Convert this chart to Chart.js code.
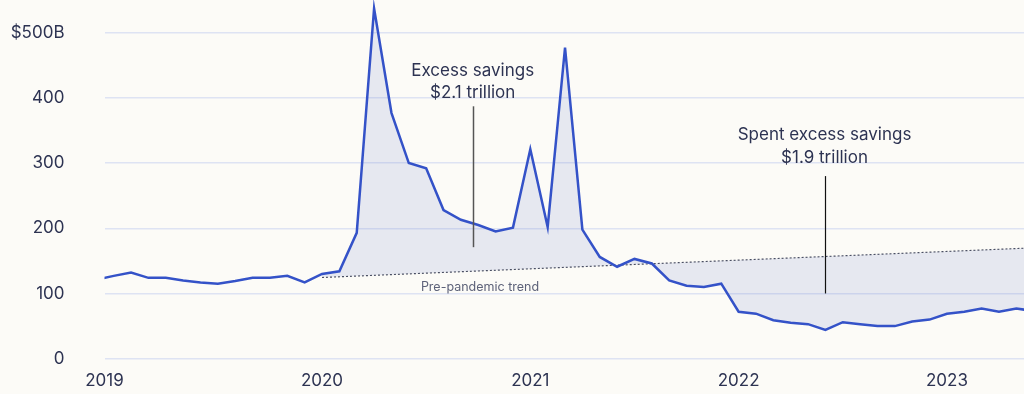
<!DOCTYPE html>
<html>
<head>
<meta charset="utf-8">
<script src="https://cdn.jsdelivr.net/npm/chart.js@4.4.0/dist/chart.umd.min.js"></script>
<style>
  html, body { margin: 0; padding: 0; background: #fcfbf7; }
  #wrap { width: 1024px; height: 394px; position: relative; }
</style>
</head>
<body>
<div id="wrap"><canvas id="savingsChart"></canvas></div>
<script>
// Monthly personal saving, $ billions (Dec 2018 .. Jun 2023)
const firstMonth = "2018-12";
const savings = [
  121,
  127, 132, 124, 124, 120, 117, 115, 119, 124, 124, 127, 117,   // 2019
  130, 134, 193, 537, 377, 300, 292, 228, 213, 205, 195, 201,   // 2020
  321, 202, 477, 198, 156, 141, 153, 146, 120, 112, 110, 115,   // 2021
  72, 69, 59, 55, 53, 44, 56, 53, 50, 50, 57, 60,               // 2022
  69, 72, 77, 72, 77, 73                                        // 2023
];

// Pre-pandemic trend (straight line)
const trendMonths = ["2020-01", "2023-06"];
const trendValues = [124.5, 170];

const yearLabels = ["2019", "2020", "2021", "2022", "2023"];
const yTicks = [0, 100, 200, 300, 400, 500];

const FONT = 'Inter, "Noto Sans", sans-serif';
const TEXT = "#2d3352";

// months since Jan 2019
function monthIndex(s) {
  const [y, m] = s.split("-").map(Number);
  return (y - 2019) * 12 + (m - 1);
}

const start = monthIndex(firstMonth);
const savingsPoints = savings.map((v, i) => ({ x: start + i, y: v }));
const trendPoints = trendMonths.map((m, i) => ({ x: monthIndex(m), y: trendValues[i] }));

// text + rule annotations, in data units
const notes = [
  { lines: ["Excess savings", "$2.1 trillion"], x: 20.68, textY: [442, 407], rule: [387, 171], ruleColor: "#555", ruleWidth: 1.5 },
  { lines: ["Spent excess savings", "$1.9 trillion"], x: 40.95, textY: [343, 308], rule: [280, 100], ruleColor: "#111", ruleWidth: 1.2 }
];
const trendNote = { text: "Pre-pandemic trend", x: 21.1, y: 109.5 };

const notesPlugin = {
  id: "notes",
  afterDatasetsDraw(chart) {
    const ctx = chart.ctx;
    const xs = chart.scales.x;
    const ys = chart.scales.y;
    ctx.save();
    notes.forEach(n => {
      const px = Math.round(xs.getPixelForValue(n.x)) + 0.5;
      ctx.strokeStyle = n.ruleColor;
      ctx.lineWidth = n.ruleWidth;
      ctx.beginPath();
      ctx.moveTo(px, ys.getPixelForValue(n.rule[0]));
      ctx.lineTo(px, ys.getPixelForValue(n.rule[1]));
      ctx.stroke();

      ctx.fillStyle = TEXT;
      ctx.font = "17px " + FONT;
      ctx.textAlign = "center";
      ctx.textBaseline = "middle";
      n.lines.forEach((t, i) => {
        ctx.fillText(t, xs.getPixelForValue(n.x), ys.getPixelForValue(n.textY[i]));
      });
    });

    ctx.fillStyle = "#5d6279";
    ctx.font = "12.5px " + FONT;
    ctx.textAlign = "center";
    ctx.textBaseline = "middle";
    ctx.fillText(trendNote.text, xs.getPixelForValue(trendNote.x), ys.getPixelForValue(trendNote.y));
    ctx.restore();
  }
};

const bgPlugin = {
  id: "bg",
  beforeDraw(chart) {
    const ctx = chart.ctx;
    ctx.save();
    ctx.fillStyle = "#fcfbf7";
    ctx.fillRect(0, 0, chart.width, chart.height);
    ctx.restore();
  }
};

new Chart(document.getElementById("savingsChart"), {
  type: "line",
  data: {
    datasets: [
      {
        label: "Personal saving",
        data: savingsPoints,
        borderColor: "#3452c8",
        borderWidth: 2.5,
        backgroundColor: "rgba(70, 95, 190, 0.12)",
        fill: { target: 1 },
        pointRadius: 0,
        tension: 0,
        clip: 0
      },
      {
        label: "Pre-pandemic trend",
        data: trendPoints,
        borderColor: "#4a4f63",
        borderWidth: 1.2,
        borderDash: [2, 2],
        pointRadius: 0,
        fill: false,
        clip: 0
      }
    ]
  },
  options: {
    responsive: true,
    maintainAspectRatio: false,
    animation: false,
    layout: { padding: 0 },
    plugins: {
      legend: { display: false },
      tooltip: { enabled: false },
      filler: { drawTime: "beforeDatasetsDraw" }
    },
    scales: {
      x: {
        type: "linear",
        min: -0.53,
        max: 52.44,
        border: { display: false },
        grid: { display: false, drawTicks: false },
        ticks: {
          padding: 12,
          color: TEXT,
          font: { family: FONT, size: 17 },
          maxRotation: 0,
          autoSkip: false,
          callback: (v, i) => yearLabels[i]
        },
        afterBuildTicks(scale) {
          scale.ticks = yearLabels.map((y, i) => ({ value: i === 0 ? scale.min : monthIndex(y + "-01") }));
        },
        afterFit(scale) {
          scale.height = 35.3;
          scale.paddingLeft = 0;
          scale.paddingRight = 0;
        }
      },
      y: {
        min: 0,
        max: 550,
        border: { display: false },
        grid: { color: "#dee3f3", lineWidth: 1.5, drawTicks: false },
        ticks: {
          padding: 40,
          color: TEXT,
          font: { family: FONT, size: 17 },
          callback: v => (v === 500 ? "$500B" : String(v))
        },
        afterBuildTicks(scale) {
          scale.ticks = yTicks.map(v => ({ value: v }));
        },
        afterFit(scale) {
          scale.width = 104.5;
          scale.paddingTop = 0;
          scale.paddingBottom = 0;
        }
      }
    }
  },
  plugins: [bgPlugin, notesPlugin]
});
</script>
</body>
</html>
